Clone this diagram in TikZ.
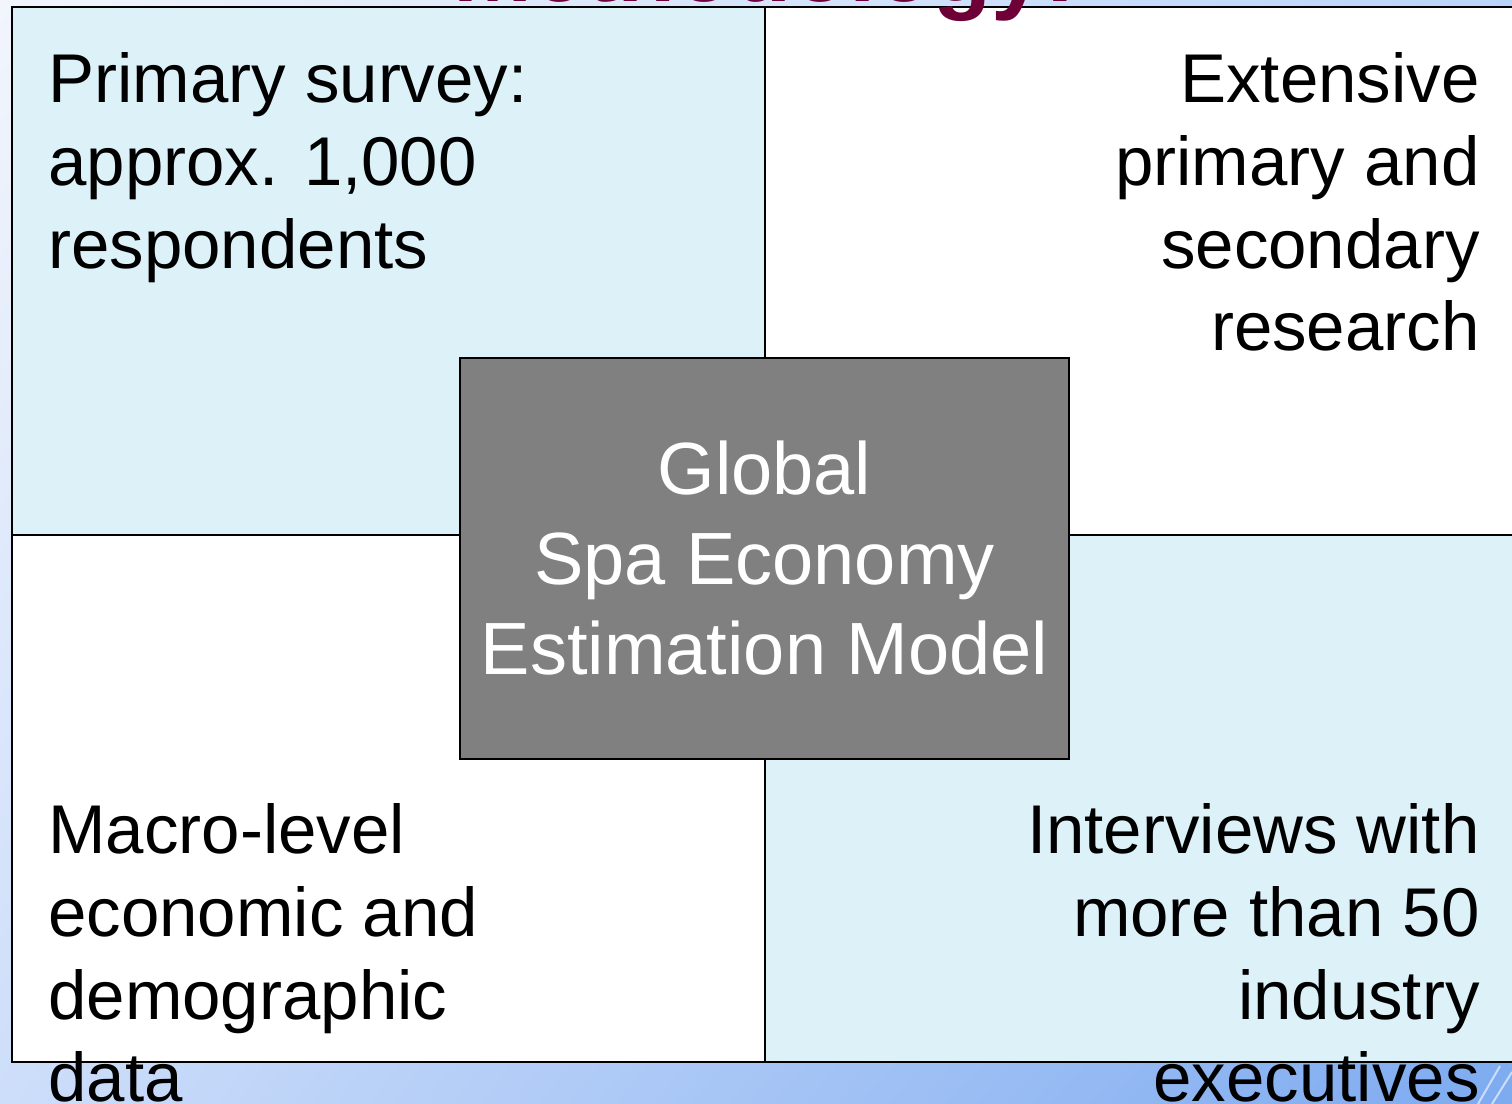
\documentclass[tikz,border=0pt]{standalone}
\usepackage{fontspec}
\setmainfont{Liberation Sans}
\usetikzlibrary{positioning,shadings}

\definecolor{quadblue}{RGB}{220,241,248}
\definecolor{modelgray}{RGB}{128,128,128}
\definecolor{titlered}{RGB}{110,0,55}
\definecolor{bgUL}{RGB}{242,245,252}
\definecolor{bgUR}{RGB}{185,212,250}
\definecolor{bgLL}{RGB}{205,222,250}
\definecolor{bgLR}{RGB}{125,170,240}

\begin{document}
\begin{tikzpicture}[
    x=0.5pt, y=-0.5pt,
    every node/.style={font=\fontsize{34.5}{41.4}\selectfont},
    cell/.style={draw, line width=1pt},
    celltext/.style={inner sep=0pt},
    model/.style={draw, line width=1pt, fill=modelgray, text=white, align=center, inner sep=0pt,
        minimum width=304.5pt, minimum height=200.5pt, font=\fontsize{37}{45}\selectfont}
]
\useasboundingbox (0,0) rectangle (1512,1104);
\clip (0,0) rectangle (1512,1104);

% background
\shade[upper left=bgUL, upper right=bgUR, lower left=bgLL, lower right=bgLR] (0,0) rectangle (1512,1104);
\draw[white, opacity=0.6, line width=1pt] (1478,1104) -- (1500,1066) (1492,1104) -- (1512,1072);

% quadrants
\fill[quadblue] (12,7) rectangle (765,535);
\fill[white] (765,7) rectangle (1520,535);
\fill[white] (12,535) rectangle (765,1062);
\fill[quadblue] (765,535) rectangle (1520,1062);
\draw[cell] (12,7) rectangle (1520,1062);
\draw[cell] (765,7) -- (765,1062);
\draw[cell] (12,535) -- (1520,535);

% centre box
\node[model] (model) at (764.5,558.5) {Global\\Spa Economy\\Estimation Model};

% quadrant texts
\node[celltext, anchor=north west, align=left] (survey) at (48,52) {Primary survey:\\approx. 1,000\\respondents};
\node[celltext, anchor=north east, align=right] (research) at (1480,52) {Extensive\\primary and\\secondary\\research};
\node[celltext, anchor=north west, align=left] (macro) at (48,803) {Macro-level\\economic and\\demographic\\data};
\node[celltext, anchor=north east, align=right] (interviews) at (1480,803) {Interviews with\\more than 50\\industry\\executives};

% title, mostly above the page
\node[font=\fontsize{47.5}{57}\selectfont\bfseries, text=titlered, anchor=base, inner sep=0pt] (title) at (765,1.5) {Methodology:};

\end{tikzpicture}
\end{document}
